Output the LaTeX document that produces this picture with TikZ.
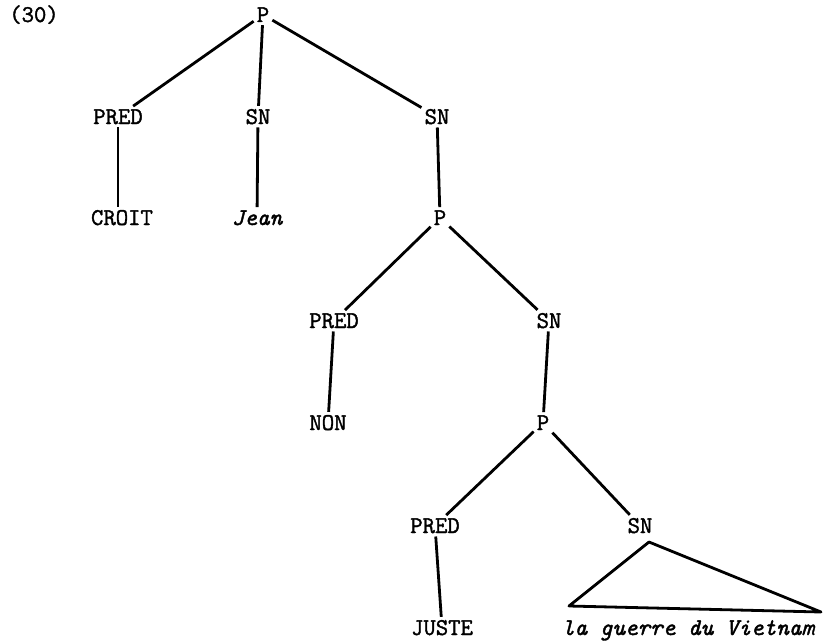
\documentclass[tikz,border=0pt]{standalone}
\usepackage{fontspec}
\setmonofont{Latin Modern Mono}[FakeBold=1.6, ItalicFeatures={FakeBold=1.6}]
\begin{document}
\begin{tikzpicture}[x=1pt,y=-1pt,
	lab/.style={font=\ttfamily\fontsize{24}{27}\selectfont, anchor=base, inner sep=3pt},
	word/.style={lab, font=\ttfamily\itshape\fontsize{24}{27}\selectfont},
	br/.style={line width=2.8pt, line join=round}]
		\useasboundingbox (0,0) rectangle (832,642);
		\node[lab] (num) at (34,22) {(30)};
		
		\node[lab] (P1) at (263,22) {P};
		\node[lab] (PRED1) at (118,124) {PRED};
		\node[lab] (SN1) at (258,124) {SN};
		\node[lab] (SN2) at (437,124) {SN};
		\node[lab] (CROIT) at (122,225) {CROIT};
		\node[word] (Jean) at (257,225) {Jean};
		\node[lab] (P2) at (440,225) {P};
		
		\node[lab] (PRED2) at (334,328) {PRED};
		\node[lab] (SN3) at (549,328) {SN};
		\node[lab] (NON) at (328,430) {NON};
		\node[lab] (P3) at (543,430) {P};
		
		\node[lab] (PRED3) at (435,533) {PRED};
		\node[lab] (SN4) at (640,533) {SN};
		\node[lab] (JUSTE) at (442,635) {JUSTE};
		\node[word] (viet) at (688,635) {la guerre du Vietnam};
		
		\coordinate (top) at (649,542);
		\coordinate (left) at (569,606);
		\coordinate (right) at (821,612);
		
		\draw[br] (P1) -- (PRED1);
		\draw[br] (P1) -- (SN1);
		\draw[br] (P1) -- (SN2);
		\draw[br] (PRED1.south) -- (PRED1.south |- CROIT.north);
		\draw[br] (SN1) -- (Jean);
		\draw[br] (SN2) -- (P2);
		\draw[br] (P2) -- (PRED2);
		\draw[br] (P2) -- (SN3);
		\draw[br] (PRED2) -- (NON);
		\draw[br] (SN3) -- (P3);
		\draw[br] (P3) -- (PRED3);
		\draw[br] (P3) -- (SN4);
		\draw[br] (PRED3) -- (JUSTE);
		\draw[br] (top) -- (left) -- (right) -- cycle;
		\end{tikzpicture}
\end{document}
